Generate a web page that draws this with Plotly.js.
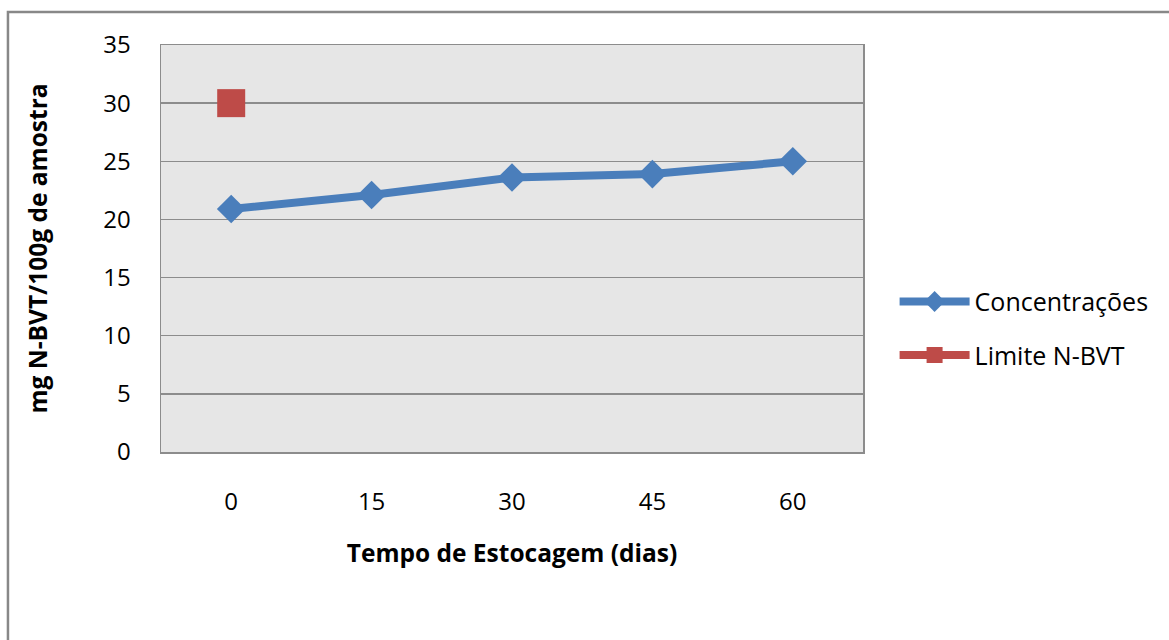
<!DOCTYPE html>
<html>
<head>
<meta charset="utf-8">
<script src="https://cdn.plot.ly/plotly-3.0.1.min.js"></script>
<style>html,body{margin:0;padding:0;background:#fff;}#chart{width:1169px;height:640px;}</style>
</head>
<body>
<div id="chart"></div>
<script>
const categories = ['0', '15', '30', '45', '60'];
const concentracoes = [20.9, 22.1, 23.6, 23.9, 25.0];
const limiteCategories = ['0'];
const limiteValues = [30];
const yTicks = [0, 5, 10, 15, 20, 25, 30, 35];

const font = 'Open Sans, Lato, sans-serif';

const traces = [
  {
    x: categories, y: concentracoes, name: 'Concentrações', type: 'scatter', mode: 'lines+markers',
    legendgroup: 'a',
    line: {color: '#4a7ebb', width: 8},
    marker: {symbol: 'diamond', size: 22, color: '#4a7ebb'}
  },
  {
    x: limiteCategories, y: limiteValues, name: 'Limite N-BVT', type: 'scatter', mode: 'lines+markers',
    legendgroup: 'b',
    line: {color: '#be4b48', width: 8},
    marker: {symbol: 'square', size: 28, color: '#be4b48'}
  }
];

const layout = {
  width: 1169, height: 640,
  margin: {l: 161, r: 306, t: 45, b: 188},
  paper_bgcolor: '#ffffff',
  plot_bgcolor: '#e6e6e6',
  font: {family: font, size: 24, color: '#000'},
  showlegend: true,
  legend: {
    x: 1.045, y: 0.304, xanchor: 'left', yanchor: 'middle',
    font: {family: font, size: 25, color: '#000'},
    itemwidth: 70, traceorder: 'grouped', tracegroupgap: 18, bgcolor: 'rgba(0,0,0,0)'
  },
  xaxis: {
    type: 'category', categoryorder: 'array', categoryarray: categories,
    range: [-0.5, 4.5], autorange: false,
    showgrid: false, showline: true, mirror: true, linecolor: '#8c8c8c', linewidth: 1.5,
    ticks: '', ticklabelstandoff: 28, tickfont: {family: font, size: 24},
    title: {text: 'Tempo de Estocagem (dias)', font: {family: font, size: 24.5, weight: 'bold'}, standoff: 28},
    zeroline: false, fixedrange: true
  },
  yaxis: {
    range: [0, 35], tickvals: yTicks, ticktext: yTicks.map(String),
    showgrid: true, gridcolor: '#8c8c8c', gridwidth: 1.5,
    showline: true, mirror: true, linecolor: '#8c8c8c', linewidth: 1.5,
    ticks: '', ticklabelstandoff: 24, tickfont: {family: font, size: 24},
    title: {text: 'mg N-BVT/100g de amostra', font: {family: font, size: 24.5, weight: 'bold'}, standoff: 48},
    zeroline: false, fixedrange: true
  },
  shapes: [
    {type: 'path', xref: 'paper', yref: 'paper',
     path: 'M -0.218,-0.6 L -0.218,1.081 L 1.5,1.081',
     line: {color: '#888888', width: 2.5}}
  ]
};

Plotly.newPlot('chart', traces, layout, {displayModeBar: false, staticPlot: true});
</script>
</body>
</html>
